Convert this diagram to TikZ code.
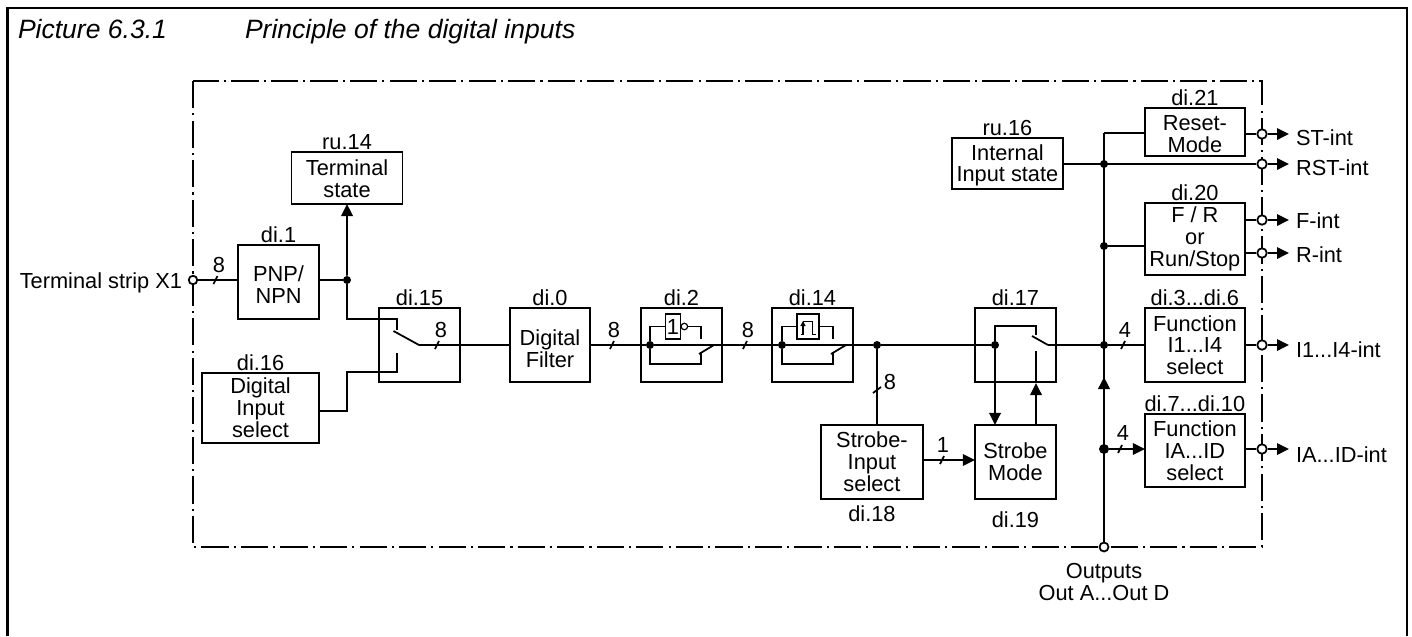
\documentclass[tikz,border=0pt]{standalone}
\usepackage{fontspec}
\setmainfont{Liberation Sans}
\usetikzlibrary{positioning}
\usetikzlibrary{arrows.meta}
\tikzset{
    wire/.style={line width=1pt},
    arrowwire/.style={wire, -{Triangle[length=0.24cm,width=0.23cm]}},
    fbox/.style={draw, wire, inner sep=0pt, outer sep=0pt, align=center,
        font=\fontsize{12.4}{12.4}\selectfont},
    midbox/.style={fbox, minimum width=1.62cm, minimum height=1.48cm},
    widebox/.style={fbox, minimum width=2cm},
    gatebox/.style={fbox, minimum height=0.5cm},
    param/.style={inner sep=0pt, outer sep=0pt, font=\fontsize{12.4}{12.4}\selectfont},
    extlabel/.style={param, align=center},
    caption/.style={param, anchor=base west, font=\fontsize{15.1}{15.1}\selectfont\itshape},
    port/.style={circle, draw, wire, fill=white, inner sep=0pt, minimum size=0.17cm},
    junction/.style={circle, fill=black, inner sep=0pt, minimum size=0.16cm},
    bubble/.style={circle, draw, line width=0.7pt, inner sep=0pt, minimum size=0.13cm},
    limit/.style={line width=0.8pt, dash pattern=on 15.5pt off 2.9pt on 1.2pt off 2.9pt}
}
\begin{document}
\begin{tikzpicture}[x=0.02cm, y=-0.02cm]
    \useasboundingbox (0,0) rectangle (1412,636);

    \draw [line width=1.5pt] (7.5,636) -- (7.5,8) -- (1407,8) -- (1407,636);
    \draw [limit] (193,81) rectangle (1262,547);

    \node [caption] (cap) at (18,38) {Picture 6.3.1};
    \node [caption] (captext) at (245,38) {Principle of the digital inputs};

    % main chain
    \node [midbox, minimum width=1.6cm] (filter) at (550,345) {\rule{0pt}{0.47cm}Digital\\Filter};
    \node [midbox, left=1cm of filter] (sel) {};
    \node [midbox, right=1.02cm of filter] (inv) {};
    \node [midbox, right=1cm of inv] (trig) {};
    \node [midbox, right=2.44cm of trig] (strobe) {};
    \node [widebox, minimum height=1.48cm, right=1.78cm of strobe] (funci) {Function\\I1...I4\\select};

    \node [midbox, left=1.2cm of sel, yshift=1.26cm] (pnp) {\rule{0pt}{0.43cm}PNP/\\NPN};
    \node [fbox, minimum width=2.22cm, minimum height=1.04cm, above=0.82cm of pnp, xshift=1.37cm] (term) {\rule{0pt}{0.35cm}Terminal\\state};
    \node [fbox, minimum width=2.34cm, minimum height=1.4cm, below=1.08cm of pnp, xshift=-0.36cm] (dis) {Digital\\Input\\select};

    \node [fbox, minimum width=2.04cm, minimum height=1.48cm, below=0.86cm of trig, xshift=1.19cm] (strobei) {Strobe-\\Input\\select};
    \node [midbox, below=0.86cm of strobe] (strobem) {Strobe\\Mode};

    \node [widebox, minimum height=1.46cm, below=0.64cm of funci] (funca) {Function\\IA...ID\\select};
    \node [widebox, minimum height=1.44cm, above=0.66cm of funci] (fr) {F / R\\or\\Run/Stop};
    \node [widebox, minimum height=0.96cm, above=0.94cm of fr] (reset) {\rule{0pt}{0.39cm}Reset-\\Mode};
    \node [fbox, minimum width=2.22cm, minimum height=1.02cm, left=1.64cm of reset, yshift=-0.63cm] (internal) {\rule{0pt}{0.39cm}Internal\\Input state};

    % parameter names
    \node [param, above=0.05cm of pnp] (lpnp) {di.1};
    \node [param, above=0.05cm of term] (lterm) {ru.14};
    \node [param, above=0.05cm of dis] (ldis) {di.16};
    \node [param, above=0.05cm of sel] (lsel) {di.15};
    \node [param, above=0.05cm of filter] (lfilter) {di.0};
    \node [param, above=0.05cm of inv] (linv) {di.2};
    \node [param, above=0.05cm of trig] (ltrig) {di.14};
    \node [param, above=0.05cm of strobe] (lstrobe) {di.17};
    \node [param, below=0.14cm of strobei] (lstrobei) {di.18};
    \node [param, below=0.26cm of strobem] (lstrobem) {di.19};
    \node [param, above=0.05cm of funci] (lfunci) {di.3...di.6};
    \node [param, above=0.05cm of funca] (lfunca) {di.7...di.10};
    \node [param, above=0.05cm of fr] (lfr) {di.20};
    \node [param, above=0.05cm of reset] (lreset) {di.21};
    \node [param, above=0.05cm of internal] (linternal) {ru.16};

    % input side
    \node [port] (px) at (193,280) {};
    \node [extlabel, anchor=base east] (tx) at (182,288) {Terminal strip X1};
    \node [junction] (j1) at (347,280) {};
    \draw [wire] (px) -- (pnp.west |- px);
    \draw [wire] (pnp.east |- j1) -- (j1);
    \draw [arrowwire] (j1) -- (term.south);

    % first switch
    \coordinate (s1up) at (397,330);
    \coordinate (s1dn) at (397,353);
    \coordinate (s1arm) at (393.5,331);
    \coordinate (s1out) at (419,345);
    \draw [wire] (j1) -- ++(0,39) -| (s1up);
    \draw [wire] ([yshift=-0.06cm]dis.east) -- ++(28,0) -- ++(0,-39) -| (s1dn);
    \draw [wire] (s1arm) -- (s1out) -- (filter.west);

    % inverter branch
    \node [junction] (j2) at (650,345) {};
    \node [gatebox, minimum width=0.3cm] (gate) at (673,326.5) {1};
    \node [bubble, right=0pt of gate] (inverter) {};
    \coordinate (s2up) at (701,339);
    \coordinate (s2dn) at (701,353);
    \coordinate (s2arm) at (699,354);
    \coordinate (s2out) at (714,345);
    \draw [wire] (filter.east) -- (j2) -- (s2out |- j2);
    \draw [wire] (j2) |- (gate.west);
    \draw [wire] (inverter) -| (s2up);
    \draw [wire] (j2) -- ++(0,19) -| (s2dn);
    \draw [wire] (s2arm) -- (s2out);

    % edge branch
    \node [junction] (j3) at (782,345) {};
    \node [gatebox, minimum width=0.44cm] (pulse) at (808,326.5) {};
    \coordinate (s3up) at (833,339);
    \coordinate (s3dn) at (833,353);
    \coordinate (s3arm) at (831,354);
    \coordinate (s3out) at (846,345);
    \draw [wire] (s2out) -- (j3) -- (s3out);
    \draw [wire] (j3) |- (pulse.west);
    \draw [wire] (pulse.east) -| (s3up);
    \draw [wire] (j3) -- ++(0,19) -| (s3dn);
    \draw [wire] (s3arm) -- (s3out);
    \draw [line width=0.5pt] ([shift={(-7,7.5)}]pulse.center) -- ++(3,0);
    \draw [line width=0.5pt] ([shift={(-5,-5.5)}]pulse.center) -- ++(9,0) -- ++(0,13) -- ++(4,0);
    \draw [line width=0.7pt, -{Triangle[length=0.1cm,width=0.1cm]}] ([shift={(-5,7.5)}]pulse.center) -- ++(0,-13);

    % strobe
    \node [junction] (j4) at (877,345) {};
    \node [junction] (j5) at (995,345) {};
    \coordinate (s4up) at (1036,335);
    \coordinate (s4dn) at (1036,351);
    \coordinate (s4arm) at (1032,336);
    \coordinate (s4out) at (1048,345);
    \coordinate (s4tip) at (1036,383);
    \draw [wire] (s3out) -- (j4) -- (j5);
    \draw [wire] (j4) -- (strobei.north -| j4);
    \draw [wire] (j5) -- ++(0,-19) -| (s4up);
    \draw [wire] (s4arm) -- (s4out);
    \draw [arrowwire] (j5) -- (strobem.north -| j5);
    \draw [wire] (s4dn) -- (s4tip);
    \draw [arrowwire] (strobem.north -| s4tip) -- (s4tip);
    \draw [arrowwire] ([yshift=0.04cm]strobei.east) -- ([yshift=0.04cm]strobem.west);

    % bus to the outputs
    \node [port, minimum size=0.18cm] (pout) at (1104,547) {};
    \node [extlabel, below=0.22cm of pout] (tout) {Outputs\\Out A...Out D};
    \coordinate (jtop) at (1104,133);
    \coordinate (bustip) at (1104,377);
    \node [junction] (jint) at (1104,164) {};
    \node [junction] (jfr) at (1104,246) {};
    \node [junction] (j6) at (1104,345) {};
    \node [junction, minimum size=0.2cm] (j7) at (1104,449) {};
    \draw [wire] (jtop) -- (pout);
    \draw [wire] (jtop) -- (reset.west |- jtop);
    \draw [wire] (jfr) -- (fr.west |- jfr);
    \draw [wire] (s4out) -- (j6) -- (funci.west |- j6);
    \draw [arrowwire, line width=1.2pt] (j7) -- (bustip);
    \draw [arrowwire] (j7) -- (funca.west |- j7);

    % outgoing signals
    \foreach \name/\py/\bl/\sig/\from in {st/134/145/ST-int/reset, rst/164/175/RST-int/internal, f/220/228/F-int/fr, r/253/262/R-int/fr, io/345/357/{I1...I4-int}/funci, ia/449/462/{IA...ID-int}/funca} {
        \node [port, minimum size=0.19cm] (p\name) at (1262,\py) {};
        \coordinate (a\name) at (1289,\py);
        \node [extlabel, anchor=base west] (t\name) at (1296,\bl) {\sig};
        \draw [wire] (\from.east |- p\name) -- (p\name);
        \draw [arrowwire] (p\name) -- (a\name);
    }

    % bus width marks
    \foreach \t in {(215.5,280), (437,345), (612,345), (745,345), (942,460), (1123,345), (1120,449)}
        \draw [wire] \t ++(-2,4) -- ++(4,-8);
    \draw [wire] (877,390) ++(-4,3) -- ++(8,-6);
    \node [param] (n1) at (219,265) {8};
    \node [param] (n2) at (441,330) {8};
    \node [param] (n3) at (614,330) {8};
    \node [param] (n4) at (748,330) {8};
    \node [param] (n5) at (890,382) {8};
    \node [param] (n6) at (943,445) {1};
    \node [param] (n7) at (1125,330) {4};
    \node [param] (n8) at (1123,433) {4};
\end{tikzpicture}
\end{document}
